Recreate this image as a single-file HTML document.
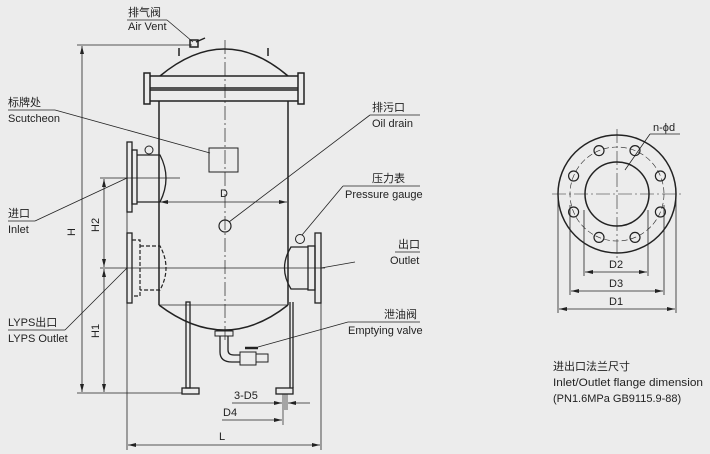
<!DOCTYPE html>
<html><head><meta charset="utf-8"><style>
html,body{margin:0;padding:0;background:#ececec;}
svg{display:block}
text{font-family:"Liberation Sans","Noto Sans CJK SC",sans-serif;fill:#222;font-size:11px}
</style></head><body>
<svg width="710" height="454" viewBox="0 0 710 454" xmlns="http://www.w3.org/2000/svg" stroke="#222" fill="none" stroke-width="1">
<defs><marker id="a" markerWidth="8" markerHeight="6" refX="8" refY="3" orient="auto-start-reverse" markerUnits="userSpaceOnUse"><path d="M0,1 L8,3 L0,5z" fill="#222" stroke="none"/></marker></defs>
<line x1="225" y1="40" x2="225" y2="340" stroke-dasharray="14,3,2,3" stroke-width="0.7"/>
<path d="M160,76 Q225,22 288,76" stroke-width="1.5"/>
<rect x="190" y="40" width="8" height="7" stroke-width="1.5"/><line x1="196" y1="42" x2="205" y2="38" stroke-width="1.5"/>
<line x1="179" y1="48" x2="179" y2="56" stroke-width="1.5"/><line x1="268" y1="48" x2="268" y2="56" stroke-width="1.5"/>
<rect x="146" y="76" width="156" height="12" stroke-width="1.5"/>
<rect x="146" y="90" width="156" height="11" stroke-width="1.5"/>
<rect x="144" y="73" width="6" height="31" fill="#ececec" stroke-width="1.5"/><rect x="298" y="73" width="6" height="31" fill="#ececec" stroke-width="1.5"/>
<line x1="159" y1="101" x2="159" y2="305" stroke-width="1.5"/>
<line x1="288" y1="101" x2="288" y2="305" stroke-width="1.5"/>
<path d="M159,305 Q225,355 288,305" stroke-width="1.5"/>
<line x1="159" y1="305" x2="288" y2="305" stroke-width="0.8"/>
<rect x="209" y="148" width="29" height="24"/>
<circle cx="225" cy="226" r="6" stroke-width="1.2"/>
<rect x="127" y="142" width="5" height="70" stroke-width="1.3"/>
<rect x="132" y="150" width="5" height="54" stroke-width="1.3"/>
<path d="M137,155 L160,155 Q172,178 160,202 L137,202" stroke-width="1.3"/>
<circle cx="149" cy="150" r="4"/>
<rect x="127" y="233" width="5" height="70" stroke-width="1.3"/>
<path d="M132,240 L140,240 L140,296 L132,296 M140,246 L160,246 Q172,268 160,290 L140,290" stroke-dasharray="4,2" stroke-width="1.2"/>
<rect x="315" y="233" width="6" height="70" stroke-width="1.3"/>
<rect x="308" y="246" width="7" height="44" stroke-width="1.3"/>
<path d="M308,247 L291,247 Q278,268 291,289 L308,289" stroke-width="1.3"/>
<circle cx="300" cy="239" r="4.5"/>
<rect x="186" y="302" width="4" height="86" stroke-width="1.3"/>
<rect x="182" y="388" width="17" height="6" stroke-width="1.3"/>
<line x1="290" y1="302" x2="290" y2="388" stroke-width="1.3"/><line x1="293" y1="302" x2="293" y2="388" stroke-width="1.3"/>
<rect x="276" y="388" width="17" height="6" stroke-width="1.3"/>
<rect x="215" y="331" width="18" height="5"/>
<path d="M220,336 L220,352 Q220,362 232,362 L240,362 M228,336 L228,350 Q228,355 234,355 L240,355" stroke-width="1.3"/>
<rect x="240" y="352" width="16" height="13"/><rect x="256" y="354" width="12" height="8"/>
<line x1="245" y1="348" x2="258" y2="348" stroke-width="2.5"/>
<line x1="77" y1="45" x2="192" y2="45" stroke-width="0.8"/>
<line x1="77" y1="393" x2="182" y2="393" stroke-width="0.8"/>
<line x1="82" y1="46" x2="82" y2="392" stroke-width="0.8" marker-start="url(#a)" marker-end="url(#a)"/>
<line x1="100" y1="178" x2="180" y2="178" stroke-width="0.8"/>
<line x1="100" y1="268" x2="325" y2="268" stroke-width="0.8"/>
<line x1="104" y1="179" x2="104" y2="267" stroke-width="0.8" marker-start="url(#a)" marker-end="url(#a)"/>
<line x1="104" y1="269" x2="104" y2="392" stroke-width="0.8" marker-start="url(#a)" marker-end="url(#a)"/>
<line x1="160" y1="202" x2="287" y2="202" stroke-width="0.8" marker-start="url(#a)" marker-end="url(#a)"/>
<line x1="127" y1="212" x2="127" y2="450" stroke-width="0.8"/>
<line x1="321" y1="303" x2="321" y2="450" stroke-width="0.8"/>
<line x1="128" y1="445" x2="320" y2="445" stroke-width="0.8" marker-start="url(#a)" marker-end="url(#a)"/>
<line x1="283" y1="394" x2="283" y2="425" stroke-width="0.7"/><line x1="285" y1="394" x2="285" y2="410" stroke-width="0.7"/><line x1="287" y1="394" x2="287" y2="410" stroke-width="0.7"/>
<line x1="232" y1="403" x2="282" y2="403" stroke-width="0.8" marker-end="url(#a)"/>
<line x1="310" y1="403" x2="288" y2="403" stroke-width="0.8" marker-end="url(#a)"/>
<line x1="222" y1="420" x2="282" y2="420" stroke-width="0.8" marker-end="url(#a)"/>
<g stroke="none">
<text x="220" y="197" font-size="12">D</text>
<text x="219" y="440" font-size="12">L</text>
<text x="223" y="416" font-size="12">D4</text>
<text x="234" y="399" font-size="12">3-D5</text>
<text transform="translate(75,236) rotate(-90)" font-size="12">H</text>
<text transform="translate(99,232) rotate(-90)" font-size="12">H2</text>
<text transform="translate(99,338) rotate(-90)" font-size="12">H1</text>
</g>
<g stroke-width="0.8">
<line x1="127" y1="20" x2="167" y2="20"/><line x1="167" y1="20" x2="193" y2="42"/>
<line x1="8" y1="110" x2="55" y2="110"/><line x1="55" y1="110" x2="210" y2="153"/>
<line x1="370" y1="115" x2="420" y2="115"/><line x1="370" y1="115" x2="229" y2="222"/>
<line x1="343" y1="186" x2="420" y2="186"/><line x1="343" y1="186" x2="302" y2="235"/>
<line x1="395" y1="252" x2="420" y2="252"/><line x1="355" y1="262" x2="321" y2="268"/>
<line x1="348" y1="322" x2="420" y2="322"/><line x1="348" y1="322" x2="258" y2="347"/>
<line x1="8" y1="221" x2="35" y2="221"/><line x1="35" y1="221" x2="127" y2="178"/>
<line x1="8" y1="330" x2="65" y2="330"/><line x1="65" y1="330" x2="127" y2="268"/>
</g>
<g stroke="none">
<text x="128" y="16">排气阀</text><text x="128" y="30">Air Vent</text>
<text x="8" y="106">标牌处</text><text x="8" y="122">Scutcheon</text>
<text x="372" y="111">排污口</text><text x="372" y="127">Oil drain</text>
<text x="372" y="182">压力表</text><text x="345" y="198">Pressure gauge</text>
<text x="398" y="248">出口</text><text x="390" y="264">Outlet</text>
<text x="384" y="318">泄油阀</text><text x="348" y="334">Emptying valve</text>
<text x="8" y="217">进口</text><text x="8" y="233">Inlet</text>
<text x="8" y="326">LYPS出口</text><text x="8" y="342">LYPS Outlet</text>
</g>
<g transform="translate(617,194)">
<circle r="59" stroke-width="1.5"/>
<circle r="32" stroke-width="1.5"/>
<circle r="47" stroke-width="0.6" stroke-dasharray="6,3"/>
<line x1="-65" y1="0" x2="65" y2="0" stroke-width="0.6" stroke-dasharray="14,3,2,3"/>
<line x1="0" y1="-65" x2="0" y2="65" stroke-width="0.6" stroke-dasharray="14,3,2,3"/>
<g stroke-width="1.2">
<circle cx="18" cy="-43.4" r="5"/><circle cx="-18" cy="-43.4" r="5"/>
<circle cx="18" cy="43.4" r="5"/><circle cx="-18" cy="43.4" r="5"/>
<circle cx="43.4" cy="-18" r="5"/><circle cx="-43.4" cy="-18" r="5"/>
<circle cx="43.4" cy="18" r="5"/><circle cx="-43.4" cy="18" r="5"/>
</g>
</g>
<g stroke-width="0.8">
<line x1="650" y1="134" x2="680" y2="134"/><line x1="650" y1="134" x2="625" y2="170"/>
<line x1="584" y1="210" x2="584" y2="276"/><line x1="648" y1="210" x2="648" y2="276"/>
<line x1="570" y1="205" x2="570" y2="295"/><line x1="664" y1="205" x2="664" y2="295"/>
<line x1="558" y1="200" x2="558" y2="313"/><line x1="676" y1="200" x2="676" y2="313"/>
<line x1="585" y1="272" x2="647" y2="272" marker-start="url(#a)" marker-end="url(#a)"/>
<line x1="571" y1="291" x2="663" y2="291" marker-start="url(#a)" marker-end="url(#a)"/>
<line x1="559" y1="309" x2="675" y2="309" marker-start="url(#a)" marker-end="url(#a)"/>
</g>
<g stroke="none">
<text x="653" y="131" font-size="12">n-ϕd</text>
<text x="609" y="268" font-size="12">D2</text>
<text x="609" y="287" font-size="12">D3</text>
<text x="609" y="305" font-size="12">D1</text>
<text x="553" y="370">进出口法兰尺寸</text>
<text x="553" y="386" textLength="150" lengthAdjust="spacingAndGlyphs">Inlet/Outlet flange dimension</text>
<text x="553" y="402">(PN1.6MPa GB9115.9-88)</text>
</g>
</svg>
</body></html>
